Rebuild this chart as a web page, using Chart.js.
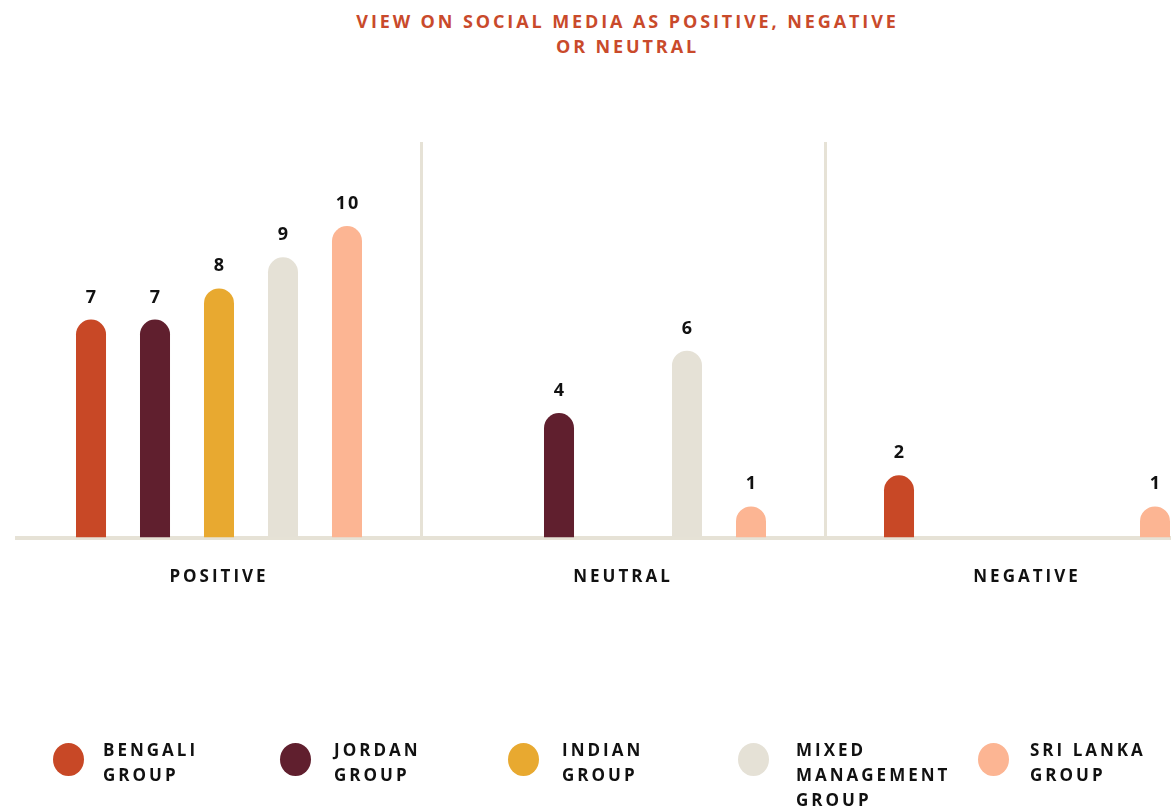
<!DOCTYPE html>
<html>
<head>
<meta charset="utf-8">
<script src="https://cdn.jsdelivr.net/npm/chart.js@4.4.0/dist/chart.umd.min.js"></script>
<style>
  body { margin:0; width:1171px; height:807px; background:#fff; overflow:hidden; position:relative; font-family:"Open Sans", sans-serif; }
  #title { position:absolute; top:9px; left:42px; width:1171px; text-align:center; color:#c94a2b; font-weight:bold; font-size:18px; letter-spacing:2.9px; line-height:25px; }
  #chart { position:absolute; top:0; left:0; }
  .item { position:absolute; top:737px; }
  .dot { position:absolute; left:0; top:6px; width:31px; height:33px; border-radius:50%; }
  .txt { position:absolute; left:0; top:0; width:175px; white-space:pre-line; font-weight:bold; font-size:17px; letter-spacing:3px; line-height:25px; color:#111; }
</style>
</head>
<body>
<div id="title">VIEW ON SOCIAL MEDIA AS POSITIVE, NEGATIVE<br>OR NEUTRAL</div>
<!-- canvas is wider than the page, the last category runs off the right edge like in the original -->
<canvas id="chart" width="1230" height="807"></canvas>
<div id="legend"></div>
<script>
// data
var categories = ["POSITIVE", "NEUTRAL", "NEGATIVE"];
var seriesNames = ["BENGALI GROUP", "JORDAN GROUP", "INDIAN GROUP", "MIXED MANAGEMENT GROUP", "SRI LANKA GROUP"];
var bengali  = [7, null, 2];
var jordan   = [7, 4, null];
var indian   = [8, null, null];
var mixed    = [9, 6, null];
var sriLanka = [10, 1, 1];

var colors = ["#c84826", "#601f2e", "#e8a930", "#e5e1d6", "#fcb593"];
var lineColor = "#e6e2d6";

var series = [bengali, jordan, indian, mixed, sriLanka];

// legend (html so the text stays text)
var dotX = [53, 280, 508, 738, 978];
var textX = [103, 334, 562, 796, 1030];
var legend = document.getElementById("legend");
seriesNames.forEach(function(name, i) {
    var item = document.createElement("div");
    item.className = "item";
    item.style.left = "0px";
    var dot = document.createElement("div");
    dot.className = "dot";
    dot.style.left = dotX[i] + "px";
    dot.style.background = colors[i];
    var txt = document.createElement("div");
    txt.className = "txt";
    txt.style.left = textX[i] + "px";
    txt.textContent = name.replace(" GROUP", "\nGROUP");
    item.appendChild(dot);
    item.appendChild(txt);
    legend.appendChild(item);
});

// numbers over the bars
var valueLabels = {
    id: "valueLabels",
    beforeDraw: function(chart) {
        chart.ctx.letterSpacing = "3px";
    },
    afterDatasetsDraw: function(chart) {
        var ctx = chart.ctx;
        ctx.save();
        ctx.font = "bold 18px 'Open Sans'";
        ctx.fillStyle = "#111";
        ctx.textAlign = "center";
        ctx.textBaseline = "alphabetic";
        ctx.letterSpacing = "2px";
        chart.data.datasets.forEach(function(ds, i) {
            chart.getDatasetMeta(i).data.forEach(function(bar, j) {
                var v = ds.data[j];
                if (v == null) return;
                ctx.fillText(String(v), bar.x + 1, bar.y - 17);
            });
        });
        ctx.restore();
    }
};

var datasets = series.map(function(vals, i) {
    return {
        label: seriesNames[i],
        data: vals,
        backgroundColor: colors[i],
        borderRadius: 15,
        borderSkipped: "bottom",
        barPercentage: 0.469,
        categoryPercentage: 0.792
    };
});

var ctx = document.getElementById("chart");
var chart = new Chart(ctx, {
    type: "bar",
    data: { labels: categories, datasets: datasets },
    plugins: [valueLabels],
    options: {
        responsive: false,
        animation: false,
        devicePixelRatio: 1,
        layout: { padding: { top: 142, left: 17, right: 1, bottom: 191 } },
        plugins: {
            legend: { display: false },
            title: { display: false },
            tooltip: { enabled: false }
        },
        scales: {
            x: {
                grid: {
                    offset: true,
                    drawTicks: false,
                    lineWidth: 3,
                    color: function(c) { return c.index === 0 ? "rgba(0,0,0,0)" : lineColor; }
                },
                border: { color: lineColor, width: 4 },
                ticks: {
                    padding: 29,
                    color: "#111",
                    font: { family: "'Open Sans'", size: 17, weight: "bold" }
                }
            },
            y: { display: false, min: 0, max: 12.7 }
        }
    }
});
</script>
</body>
</html>
